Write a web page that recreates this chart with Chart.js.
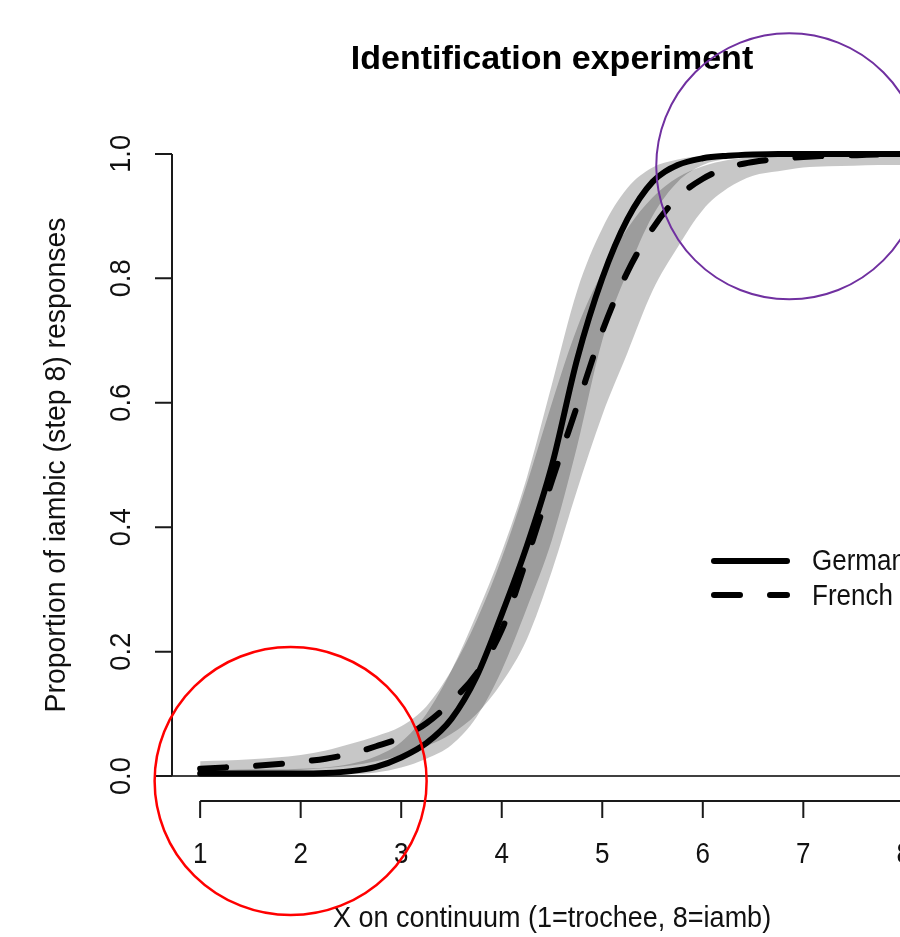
<!DOCTYPE html>
<html>
<head>
<meta charset="utf-8">
<title>Identification experiment</title>
<script src="https://cdn.jsdelivr.net/npm/chart.js@4.4.1/dist/chart.umd.min.js"></script>
<style>
    html, body { margin: 0; padding: 0; background: #fff; overflow: hidden; width: 900px; height: 937px; }
    canvas { display: block; }
</style>
</head>
<body>
<canvas id="idChart" width="940" height="937"></canvas>
<script>
const steps = [1, 1.25, 1.5, 1.75, 2, 2.25, 2.5, 2.75, 3, 3.25, 3.5, 3.75, 4, 4.25, 4.5, 4.75,
    5, 5.25, 5.5, 5.75, 6, 6.25, 6.5, 6.75, 7, 7.25, 7.5, 7.75, 8];

const germanFit = [0.004, 0.004, 0.004, 0.004, 0.004, 0.005, 0.008, 0.015, 0.030, 0.053, 0.092, 0.16, 0.26, 0.37, 0.50, 0.67,
    0.80, 0.895, 0.955, 0.982, 0.993, 0.997, 0.999, 1.0, 1.0, 1.0, 1.0, 1.0, 1.0];
const germanHigh = [0.010, 0.010, 0.011, 0.011, 0.012, 0.014, 0.020, 0.032, 0.055, 0.10, 0.17, 0.26, 0.36, 0.48, 0.63, 0.78,
    0.88, 0.945, 0.978, 0.991, 0.997, 0.999, 1.0, 1.0, 1.0, 1.0, 1.0, 1.0, 1.0];
const germanLow = [0.000, 0.001, 0.001, 0.001, 0.001, 0.002, 0.003, 0.006, 0.014, 0.028, 0.050, 0.095, 0.17, 0.27, 0.38, 0.53,
    0.70, 0.81, 0.90, 0.955, 0.982, 0.992, 0.997, 0.998, 0.999, 0.999, 0.999, 0.999, 0.999];

const frenchFit = [0.012, 0.014, 0.016, 0.019, 0.023, 0.028, 0.036, 0.048, 0.062, 0.085, 0.12, 0.165, 0.235, 0.35, 0.475, 0.595,
    0.715, 0.81, 0.88, 0.93, 0.96, 0.978, 0.987, 0.992, 0.995, 0.997, 0.998, 0.999, 0.999];
const frenchHigh = [0.024, 0.025, 0.027, 0.030, 0.034, 0.041, 0.052, 0.064, 0.080, 0.112, 0.17, 0.25, 0.35, 0.47, 0.60, 0.72,
    0.81, 0.88, 0.93, 0.962, 0.980, 0.990, 0.995, 0.997, 0.998, 0.999, 0.999, 0.999, 0.999];
const frenchLow = [0.004, 0.005, 0.006, 0.008, 0.010, 0.013, 0.017, 0.024, 0.034, 0.048, 0.068, 0.10, 0.15, 0.22, 0.33, 0.46,
    0.58, 0.68, 0.78, 0.85, 0.91, 0.945, 0.965, 0.972, 0.978, 0.980, 0.981, 0.982, 0.982];

const seriesNames = ["German", "French"];
const xTicks = [1, 2, 3, 4, 5, 6, 7, 8];
const yTicks = [0, 0.2, 0.4, 0.6, 0.8, 1.0];
const yTickLabels = ["0.0", "0.2", "0.4", "0.6", "0.8", "1.0"];

const chartTitle = "Identification experiment";
const xTitle = "X on continuum (1=trochee, 8=iamb)";
const yTitle = "Proportion of iambic (step 8) responses";

const FONT = "'Liberation Sans', Arial, Helvetica, sans-serif";
const bandFill = "rgba(0, 0, 0, 0.22)";
const dashPattern = [26, 30];

function toPoints(values) {
    return steps.map((x, i) => ({ x, y: values[i] }));
}

// text a little taller than wide, like the stretched original
function tallText(ctx, text, x, y, rotate) {
    ctx.save();
    ctx.translate(x, y);
    if (rotate) {
        ctx.rotate(-Math.PI / 2);
        ctx.scale(1.05, 1.1);
    } else {
        ctx.scale(1, 1.12);
    }
    ctx.fillText(text, 0, 0);
    ctx.restore();
}

// R style axes, titles, legend and the two hand drawn circles
const rPlotPlugin = {
    id: "rPlot",
    beforeDatasetsDraw(chart) {
        const { ctx, chartArea, scales: { y } } = chart;
        const y0 = y.getPixelForValue(0);
        ctx.save();
        ctx.strokeStyle = "#404040";
        ctx.lineWidth = 2;
        ctx.beginPath();
        ctx.moveTo(chartArea.left, y0);
        ctx.lineTo(chartArea.right, y0);
        ctx.stroke();
        ctx.restore();
    },
    afterDraw(chart) {
        const { ctx, chartArea, scales: { x, y } } = chart;
        const tick = 17;
        ctx.save();
        ctx.strokeStyle = "#1a1a1a";
        ctx.fillStyle = "#111";
        ctx.lineWidth = 2;

        // y axis
        ctx.beginPath();
        ctx.moveTo(chartArea.left, y.getPixelForValue(yTicks[0]));
        ctx.lineTo(chartArea.left, y.getPixelForValue(yTicks[yTicks.length - 1]));
        yTicks.forEach((v) => {
            const py = y.getPixelForValue(v);
            ctx.moveTo(chartArea.left, py);
            ctx.lineTo(chartArea.left - tick, py);
        });
        ctx.stroke();

        // x axis
        const axisY = chartArea.bottom;
        ctx.beginPath();
        ctx.moveTo(x.getPixelForValue(xTicks[0]), axisY);
        ctx.lineTo(x.getPixelForValue(xTicks[xTicks.length - 1]), axisY);
        xTicks.forEach((v) => {
            const px = x.getPixelForValue(v);
            ctx.moveTo(px, axisY);
            ctx.lineTo(px, axisY + tick);
        });
        ctx.stroke();

        ctx.font = `26px ${FONT}`;
        ctx.textAlign = "center";
        ctx.textBaseline = "middle";
        xTicks.forEach((v) => {
            tallText(ctx, String(v), x.getPixelForValue(v), axisY + 54, false);
        });

        yTicks.forEach((v, i) => {
            tallText(ctx, yTickLabels[i], chartArea.left - 50, y.getPixelForValue(v), true);
        });

        // axis titles
        ctx.font = `27px ${FONT}`;
        tallText(ctx, xTitle, (chartArea.left + chartArea.right) / 2, 919, false);
        tallText(ctx, yTitle, 57, (y.getPixelForValue(0) + y.getPixelForValue(1)) / 2, true);

        // main title
        ctx.font = `bold 34px ${FONT}`;
        ctx.fillStyle = "#000";
        ctx.fillText(chartTitle, (chartArea.left + chartArea.right) / 2, 60);

        // legend
        const legendRows = [561, 595];
        ctx.lineWidth = 6;
        ctx.lineCap = "round";
        ctx.strokeStyle = "#000";
        legendRows.forEach((ly, i) => {
            ctx.setLineDash(i === 0 ? [] : dashPattern);
            ctx.beginPath();
            ctx.moveTo(714, ly);
            ctx.lineTo(787, ly);
            ctx.stroke();
        });
        ctx.setLineDash([]);
        ctx.font = `26px ${FONT}`;
        ctx.textAlign = "left";
        ctx.fillStyle = "#111";
        tallText(ctx, seriesNames[0], 812, 562, false);
        tallText(ctx, seriesNames[1], 812, 597, false);

        // highlight circles
        ctx.lineCap = "butt";
        ctx.lineWidth = 2.5;
        ctx.strokeStyle = "#ff0000";
        ctx.beginPath();
        ctx.ellipse(x.getPixelForValue(1.9), y.getPixelForValue(-0.008), 136, 134, 0, 0, Math.PI * 2);
        ctx.stroke();

        ctx.lineWidth = 2;
        ctx.strokeStyle = "#7030a0";
        ctx.beginPath();
        ctx.ellipse(x.getPixelForValue(6.86), y.getPixelForValue(0.98), 133, 133, 0, 0, Math.PI * 2);
        ctx.stroke();
        ctx.restore();
    }
};

new Chart(document.getElementById("idChart"), {
    type: "line",
    data: {
        datasets: [
            {
                label: seriesNames[0],
                data: toPoints(germanFit),
                borderColor: "#000",
                borderWidth: 6,
                borderCapStyle: "round",
                borderJoinStyle: "round",
                pointRadius: 0,
                cubicInterpolationMode: "monotone",
                fill: false,
            },
            {
                label: seriesNames[1],
                data: toPoints(frenchFit),
                borderColor: "#000",
                borderWidth: 6,
                borderDash: dashPattern,
                borderCapStyle: "round",
                borderJoinStyle: "round",
                pointRadius: 0,
                cubicInterpolationMode: "monotone",
                fill: false,
            },
            {
                label: "German upper",
                data: toPoints(germanHigh),
                borderWidth: 0,
                pointRadius: 0,
                cubicInterpolationMode: "monotone",
                backgroundColor: bandFill,
                fill: "+1",
            },
            {
                label: "German lower",
                data: toPoints(germanLow),
                borderWidth: 0,
                pointRadius: 0,
                cubicInterpolationMode: "monotone",
                fill: false,
            },
            {
                label: "French upper",
                data: toPoints(frenchHigh),
                borderWidth: 0,
                pointRadius: 0,
                cubicInterpolationMode: "monotone",
                backgroundColor: bandFill,
                fill: "+1",
            },
            {
                label: "French lower",
                data: toPoints(frenchLow),
                borderWidth: 0,
                pointRadius: 0,
                cubicInterpolationMode: "monotone",
                fill: false,
            },
        ],
    },
    options: {
        responsive: false,
        animation: false,
        devicePixelRatio: 1,
        layout: { padding: { left: 172, right: 8, top: 129, bottom: 136 } },
        scales: {
            x: { type: "linear", min: 0.72, max: 8.28, display: false },
            y: { min: -0.04, max: 1.04, display: false },
        },
        plugins: {
            legend: { display: false },
            tooltip: { enabled: false },
            title: { display: false },
        },
    },
    plugins: [rPlotPlugin],
});
</script>
</body>
</html>
